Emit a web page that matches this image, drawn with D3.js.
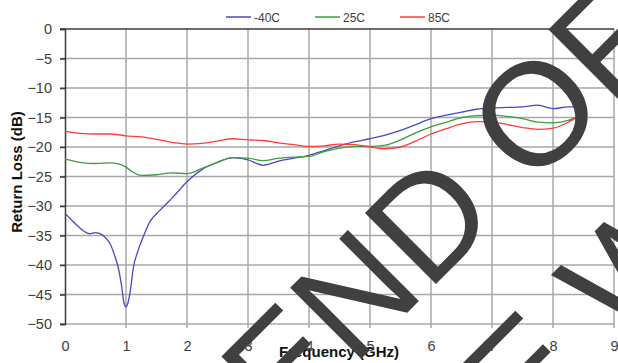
<!DOCTYPE html>
<html>
<head>
<meta charset="utf-8">
<script src="https://cdn.jsdelivr.net/npm/d3@7"></script>
<style>
  html, body { margin: 0; padding: 0; background: #ffffff; }
  svg { display: block; }
  text { font-family: "Liberation Sans", Arial, sans-serif; }
</style>
</head>
<body>
<svg id="chart" width="618" height="363"></svg>
<script>
// Return loss vs frequency at three temperatures
const seriesNames = ["-40C", "25C", "85C"];
const seriesColors = ["#4a4ac0", "#3d9e3d", "#ff3c3c"];

const freqM40 = [0, 0.1, 0.2, 0.3, 0.4, 0.5, 0.6, 0.7, 0.74, 0.82, 0.87, 0.93, 0.967, 1.0, 1.033, 1.08, 1.115, 1.2, 1.28, 1.39, 1.56, 1.77, 2.0, 2.25, 2.5, 2.75, 3.0, 3.25, 3.5, 3.75, 4.0, 4.25, 4.5, 4.75, 5.0, 5.25, 5.5, 5.75, 6.0, 6.25, 6.5, 6.75, 7.0, 7.25, 7.5, 7.75, 8.0, 8.25, 8.4];
const rlM40 = [-31.2, -32.3, -33.3, -34.2, -34.7, -34.5, -34.8, -35.8, -36.4, -38.6, -40.3, -43.7, -46.4, -47.1, -46.4, -43.7, -40.8, -37.5, -35.3, -32.7, -30.7, -28.5, -25.9, -23.8, -22.6, -21.8, -22.2, -23.1, -22.4, -21.9, -21.4, -20.6, -19.8, -19.1, -18.6, -18.0, -17.2, -16.2, -15.2, -14.6, -14.1, -13.6, -13.4, -13.3, -13.2, -12.9, -13.5, -13.2, -13.2];

const freq25 = [0, 0.25, 0.5, 0.75, 1.0, 1.1, 1.25, 1.5, 1.75, 2.0, 2.25, 2.5, 2.75, 3.0, 3.25, 3.5, 3.75, 4.0, 4.25, 4.5, 4.75, 5.0, 5.25, 5.5, 5.75, 6.0, 6.25, 6.5, 6.75, 7.0, 7.25, 7.5, 7.75, 8.0, 8.25, 8.4];
const rl25 = [-22.0, -22.6, -22.8, -22.7, -23.4, -24.2, -24.8, -24.7, -24.4, -24.5, -23.6, -22.6, -21.8, -21.9, -22.3, -21.9, -21.7, -21.6, -20.8, -20.2, -19.9, -19.9, -19.7, -18.8, -17.6, -16.6, -15.8, -15.0, -14.7, -14.6, -14.8, -15.2, -15.8, -15.9, -15.5, -14.8];

const freq85 = [0, 0.25, 0.5, 0.75, 1.0, 1.25, 1.5, 1.75, 2.0, 2.25, 2.5, 2.75, 3.0, 3.25, 3.5, 3.75, 4.0, 4.25, 4.5, 4.75, 5.0, 5.25, 5.5, 5.75, 6.0, 6.25, 6.5, 6.75, 7.0, 7.25, 7.5, 7.75, 8.0, 8.25, 8.4];
const rl85 = [-17.3, -17.7, -17.8, -17.8, -18.1, -18.3, -18.7, -19.2, -19.5, -19.4, -19.0, -18.6, -18.8, -18.9, -19.3, -19.6, -19.9, -19.8, -19.5, -19.6, -20.0, -20.3, -20.0, -19.0, -17.8, -16.9, -16.1, -15.7, -15.8, -16.2, -16.7, -17.0, -16.8, -15.8, -14.9];

const xTicks = [0, 1, 2, 3, 4, 5, 6, 7, 8, 9];
const yTicks = [0, -5, -10, -15, -20, -25, -30, -35, -40, -45, -50];

const xTitle = "Frequency (GHz)";
const yTitle = "Return Loss (dB)";
const stampLines = ["END OF LIFE", "E W"];

const svg = d3.select("#chart");
const plotLeft = 65, plotRight = 614, plotTop = 29, plotBottom = 324;

const x = d3.scaleLinear().domain([0, 9]).range([plotLeft, plotRight]);
const y = d3.scaleLinear().domain([-50, 0]).range([plotBottom, plotTop]);

const gridColor = "#a8a8a8";
const textColor = "#404040";

// grid
const grid = svg.append("g");
grid.selectAll("line.v").data(xTicks.filter(d => d > 0)).join("line")
  .attr("x1", d => x(d)).attr("x2", d => x(d))
  .attr("y1", plotTop).attr("y2", plotBottom + 4)
  .attr("stroke", gridColor).attr("stroke-width", 1.5);
grid.selectAll("line.h").data(yTicks.filter(d => d < 0)).join("line")
  .attr("x1", plotLeft - 5).attr("x2", plotRight)
  .attr("y1", d => y(d)).attr("y2", d => y(d))
  .attr("stroke", gridColor).attr("stroke-width", 1.5);

// left axis and the zero line along the top
const yAxis = d3.axisLeft(y).tickValues(yTicks).tickSize(5).tickFormat(d3.format("d"));
const gy = svg.append("g").attr("transform", `translate(${plotLeft},0)`).call(yAxis);
gy.select(".domain").attr("stroke", "#3a3a3a").attr("stroke-width", 1.5);
gy.selectAll(".tick line").attr("stroke", "#3a3a3a").attr("stroke-width", 1.5);
gy.selectAll(".tick text").attr("x", -13).attr("fill", textColor)
  .style("font-size", "14.5px").style("font-family", "'Liberation Sans', Arial, sans-serif");

svg.append("line")
  .attr("x1", plotLeft - 5).attr("x2", plotRight)
  .attr("y1", y(0)).attr("y2", y(0))
  .attr("stroke", "#3a3a3a").attr("stroke-width", 1.5);

// bottom tick labels
const xAxis = d3.axisBottom(x).tickValues(xTicks).tickSize(0).tickFormat(d3.format("d"));
const gx = svg.append("g").attr("transform", `translate(0,${plotBottom})`).call(xAxis);
gx.select(".domain").remove();
gx.selectAll(".tick text").attr("y", 17).attr("fill", textColor)
  .style("font-size", "14.5px").style("font-family", "'Liberation Sans', Arial, sans-serif");

// series
const series = [
  { f: freqM40, v: rlM40 },
  { f: freq25, v: rl25 },
  { f: freq85, v: rl85 }
];
const line = d3.line().x(d => x(d[0])).y(d => y(d[1])).curve(d3.curveMonotoneX);
series.forEach((s, i) => {
  svg.append("path")
    .datum(s.f.map((f, k) => [f, s.v[k]]))
    .attr("d", line)
    .attr("fill", "none")
    .attr("stroke", seriesColors[i])
    .attr("stroke-width", 1.3);
});

// legend
const legendX = [226, 315, 400];
const lg = svg.append("g");
seriesNames.forEach((name, i) => {
  lg.append("line")
    .attr("x1", legendX[i]).attr("x2", legendX[i] + 25)
    .attr("y1", 17).attr("y2", 17)
    .attr("stroke", seriesColors[i]).attr("stroke-width", 1.5);
  lg.append("text")
    .attr("x", legendX[i] + 28).attr("y", 21.5)
    .attr("fill", textColor).style("font-size", "12px")
    .text(name);
});

// axis titles
svg.append("text")
  .attr("transform", `translate(22,172) rotate(-90)`)
  .attr("text-anchor", "middle")
  .attr("fill", "#111").style("font-size", "15px").style("font-weight", "bold")
  .text(yTitle);
svg.append("text")
  .attr("x", 339).attr("y", 357)
  .attr("text-anchor", "middle")
  .attr("fill", "#111").style("font-size", "15px").style("font-weight", "bold")
  .text(xTitle);

// diagonal stamp over the chart
const stamp = svg.append("g").attr("fill", "#404040")
  .style("font-size", "146px").style("font-family", "'Liberation Sans', Arial, sans-serif");
stamp.append("text")
  .attr("transform", "translate(284,436) rotate(-45)")
  .text(stampLines[0]);
stamp.append("text")
  .attr("transform", "translate(524,444) rotate(-45)")
  .text(stampLines[1]);
</script>
</body>
</html>
